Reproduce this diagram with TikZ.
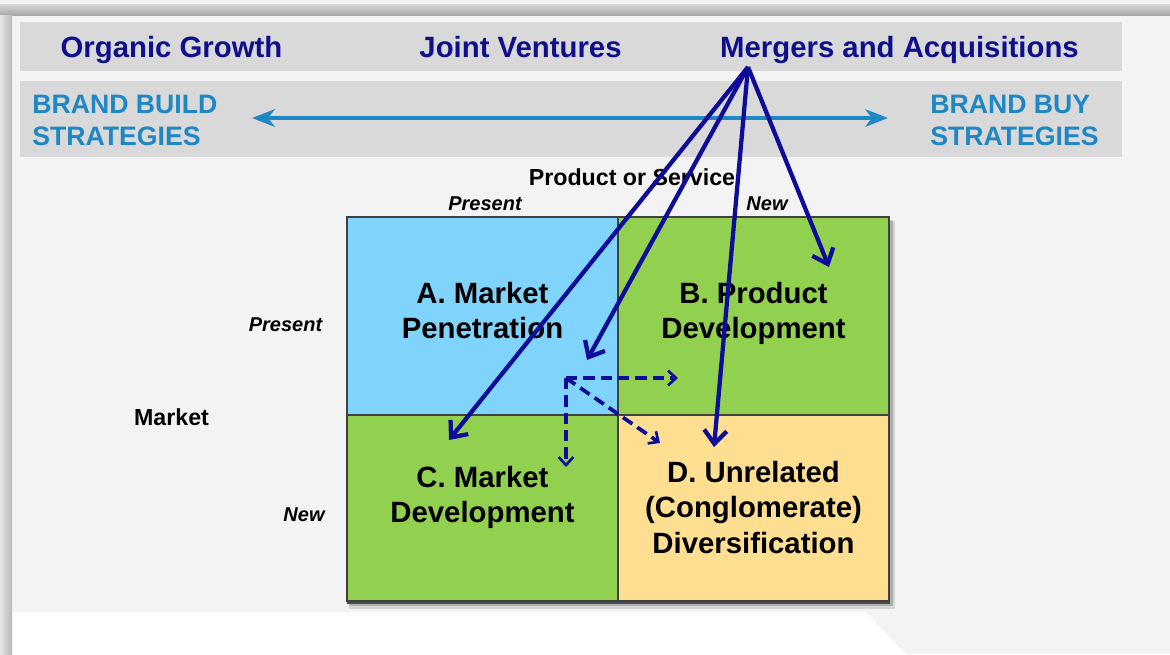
\documentclass[tikz,border=0pt]{standalone}
\usepackage{fontspec}
\setmainfont{Liberation Sans}
\usetikzlibrary{arrows.meta}

\definecolor{panelgrey}{HTML}{F3F3F3}
\definecolor{bandgrey}{HTML}{D9D9D9}
\definecolor{navyblue}{HTML}{0F0F8C}
\definecolor{arrownavy}{HTML}{0D0D99}
\definecolor{brandblue}{HTML}{1F87C3}
\definecolor{cellblue}{HTML}{80D3FB}
\definecolor{cellgreen}{HTML}{92D050}
\definecolor{cellsand}{HTML}{FEDE90}

\begin{document}
\begin{tikzpicture}[x=0.75pt,y=-0.75pt,
  headline/.style={font=\fontsize{22}{26.4}\selectfont\bfseries, text=navyblue, anchor=base, inner sep=0pt},
  brand/.style={font=\fontsize{20}{24}\selectfont\bfseries, text=brandblue, align=left, anchor=north west, inner sep=0pt},
  axislabel/.style={font=\fontsize{17.4}{20}\selectfont\bfseries, anchor=base, inner sep=0pt},
  tick/.style={font=\fontsize{15}{18}\selectfont\bfseries\itshape, anchor=base, inner sep=0pt},
  cell/.style={draw=black!75, line width=1.1pt, minimum width=203.25pt, inner sep=0pt},
  celltext/.style={font=\fontsize{22}{26.4}\selectfont\bfseries, align=center, inner sep=0pt},
  brandline/.style={draw=brandblue, line width=3.6pt, {Stealth[length=17pt,width=13pt,inset=5pt]}-{Stealth[length=17pt,width=13pt,inset=5pt]}},
  buyarrow/.style={draw=arrownavy, line width=3.2pt, -{Straight Barb[length=10pt,width=17pt]}},
  dashmove/.style={draw=arrownavy, line width=2.8pt, dash pattern=on 8.5pt off 4.5pt, -{Straight Barb[length=6pt,width=11pt,line width=2pt]}}
]
\useasboundingbox (0,0) rectangle (1170,654);

% slide frame
\fill[panelgrey] (0,0) rectangle (1170,654);
\fill[white] (12,612) -- (866,612) -- (906,654) -- (12,654) -- cycle;
\shade[top color=black!16, bottom color=black!34] (0,4) rectangle (1170,15);
\shade[left color=black!10, right color=black!28] (0,15) rectangle (12,654);

% header bands
\fill[bandgrey] (20,22) rectangle (1122,71);
\fill[bandgrey] (20,81) rectangle (1122,157);

\node[headline] (organic) at (171.5,57) {Organic Growth};
\node[headline] (joint) at (520.5,57) {Joint Ventures};
\node[headline] (mergers) at (899.5,57) {Mergers and Acquisitions};

\node[brand] (build) at (32,95) {BRAND BUILD\\STRATEGIES};
\node[brand] (buy) at (930,95) {BRAND BUY\\STRATEGIES};
\coordinate (buildend) at (252,118);
\coordinate (buyend) at (888,118);
\draw[brandline] (buildend) -- (buyend);

% axes of the matrix
\node[axislabel] (product) at (632,185) {Product or Service};
\node[tick] (colpresent) at (485,210) {Present};
\node[tick] (colnew) at (767,210) {New};
\node[axislabel] (market) at (171.5,425) {Market};
\node[tick] (rowpresent) at (285.5,331) {Present};
\node[tick] (rownew) at (304,521) {New};

% soft shadow under the matrix
\fill[black, opacity=0.12] (349,221) rectangle (895,609);
\fill[black, opacity=0.18] (349,220) rectangle (893,606);
\fill[black!70] (347,217) rectangle (890,604);

% the four cells
\node[cell, fill=cellblue, minimum height=148.5pt] (cellA) at (482.5,316) {};
\node[cell, fill=cellgreen, minimum height=148.5pt] (cellB) at (753.5,316) {};
\node[cell, fill=cellgreen, minimum height=139.5pt] (cellC) at (482.5,508) {};
\node[cell, fill=cellsand, minimum height=139.5pt] (cellD) at (753.5,508) {};

\node[celltext] (textA) at (482.5,310.5) {A. Market\\Penetration};
\node[celltext] (textB) at (753.5,313.5) {B. Product\\Development};
\node[celltext] (textC) at (482.5,497.5) {C. Market\\Development};
\node[celltext] (textD) at (753.5,507.5) {D. Unrelated\\(Conglomerate)\\Diversification};

% acquisitions reach every cell
\coordinate (mastart) at (748,67);
\coordinate (toA) at (587,360);
\coordinate (toB) at (829,267);
\coordinate (toC) at (449,440);
\coordinate (toD) at (714,447);
\draw[buyarrow] (mastart) -- (toC);
\draw[buyarrow] (mastart) -- (toA);
\draw[buyarrow] (mastart) -- (toD);
\draw[buyarrow] (mastart) -- (toB);

% moves out of market penetration
\coordinate (pivot) at (566,378);
\coordinate (dashB) at (678,378);
\coordinate (dashC) at (566,467);
\coordinate (dashD) at (660,443);
\draw[dashmove] (pivot) -- (dashB);
\draw[dashmove] (pivot) -- (dashC);
\draw[dashmove] (pivot) -- (dashD);
\end{tikzpicture}
\end{document}
